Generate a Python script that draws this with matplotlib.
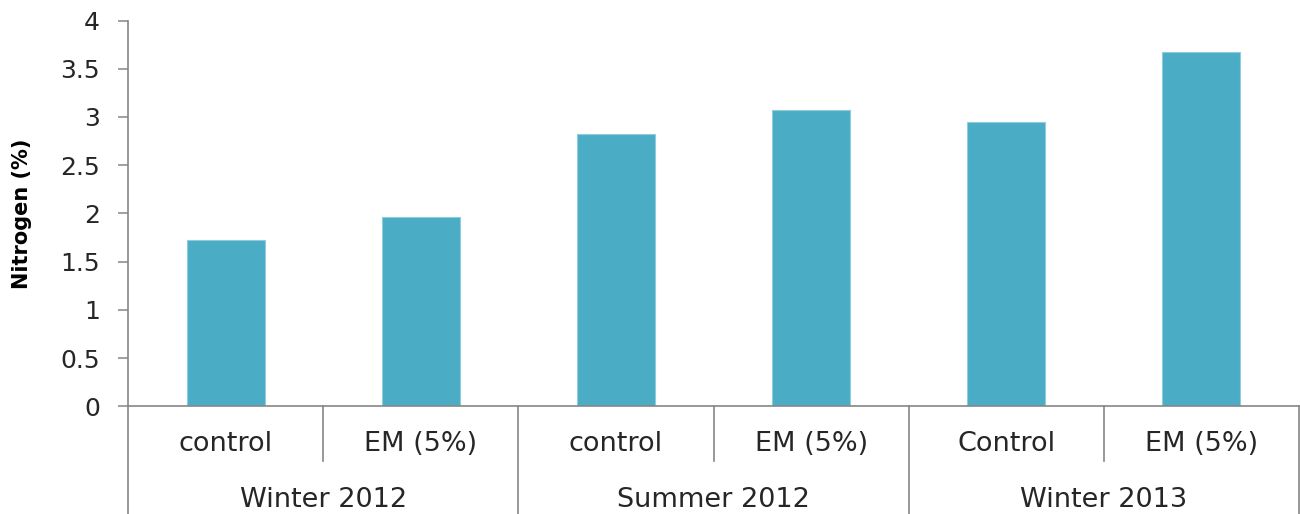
import matplotlib
matplotlib.use("Agg")
import matplotlib.pyplot as plt
from matplotlib.transforms import blended_transform_factory
from matplotlib.lines import Line2D

plt.rcParams['font.family'] = ['DejaVu Sans']

treatments = ["control", "EM (5%)", "control", "EM (5%)", "Control", "EM (5%)"]
seasons = ["Winter 2012", "Summer 2012", "Winter 2013"]
nitrogen = [1.72, 1.96, 2.82, 3.07, 2.95, 3.67]
y_ticks = [0, 0.5, 1, 1.5, 2, 2.5, 3, 3.5, 4]
y_tick_labels = ["0", "0.5", "1", "1.5", "2", "2.5", "3", "3.5", "4"]

bar_color = "#4BACC6"
axis_color = "#868686"
text_color = "#262626"

W, H = 1300, 514
fig = plt.figure(figsize=(W / 100, H / 100), dpi=100)
ax = fig.add_axes([128 / W, 1 - 406.3 / H, (1299 - 128) / W, (406.3 - 20.5) / H])

x = list(range(len(nitrogen)))
ax.bar(x, nitrogen, width=0.4, color=bar_color, edgecolor="#8FCDDD", linewidth=0.8, zorder=2)

ax.set_xlim(-0.5, len(nitrogen) - 0.5)
ax.set_ylim(0, 4)
ax.set_yticks(y_ticks)
ax.set_yticklabels(y_tick_labels, fontsize=18, color=text_color)
ax.tick_params(axis="y", direction="out", length=7.2, width=1.1, color=axis_color, pad=13)
ax.set_xticks([])

for side in ["top", "right"]:
    ax.spines[side].set_visible(False)
for side in ["left", "bottom"]:
    ax.spines[side].set_color(axis_color)
    ax.spines[side].set_linewidth(1.2)

ax.set_ylabel("Nitrogen (%)", fontsize=15, fontweight="bold", color="black")
ax.yaxis.set_label_coords((32 - 128) / (1299 - 128), 0.5)

# Two-level category axis below the plot
trans = blended_transform_factory(ax.transData, fig.transFigure)
y_axis_fig = 1 - 406.3 / H
y_sub_end = 1 - 461 / H
y_sub_base = 1 - 451 / H
y_group_base = 1 - 507 / H

def vline(xpos, y0, y1):
    fig.add_artist(Line2D([xpos, xpos], [y0, y1], transform=trans,
                          color=axis_color, linewidth=1.2, clip_on=False))

# separators between treatments within a season
for g in range(len(seasons)):
    vline(2 * g + 0.5, y_axis_fig, y_sub_end)
# separators between seasons, including the outer edges
for g in range(len(seasons) + 1):
    vline(2 * g - 0.5, y_axis_fig, 0)

for xi, lab in zip(x, treatments):
    fig.text(xi, y_sub_base, lab, transform=trans, ha="center", va="baseline",
             fontsize=19.5, color=text_color)
for g, lab in enumerate(seasons):
    fig.text(2 * g + 0.5, y_group_base, lab, transform=trans, ha="center", va="baseline",
             fontsize=19.5, color=text_color)

fig.savefig("out.png", dpi=100)
